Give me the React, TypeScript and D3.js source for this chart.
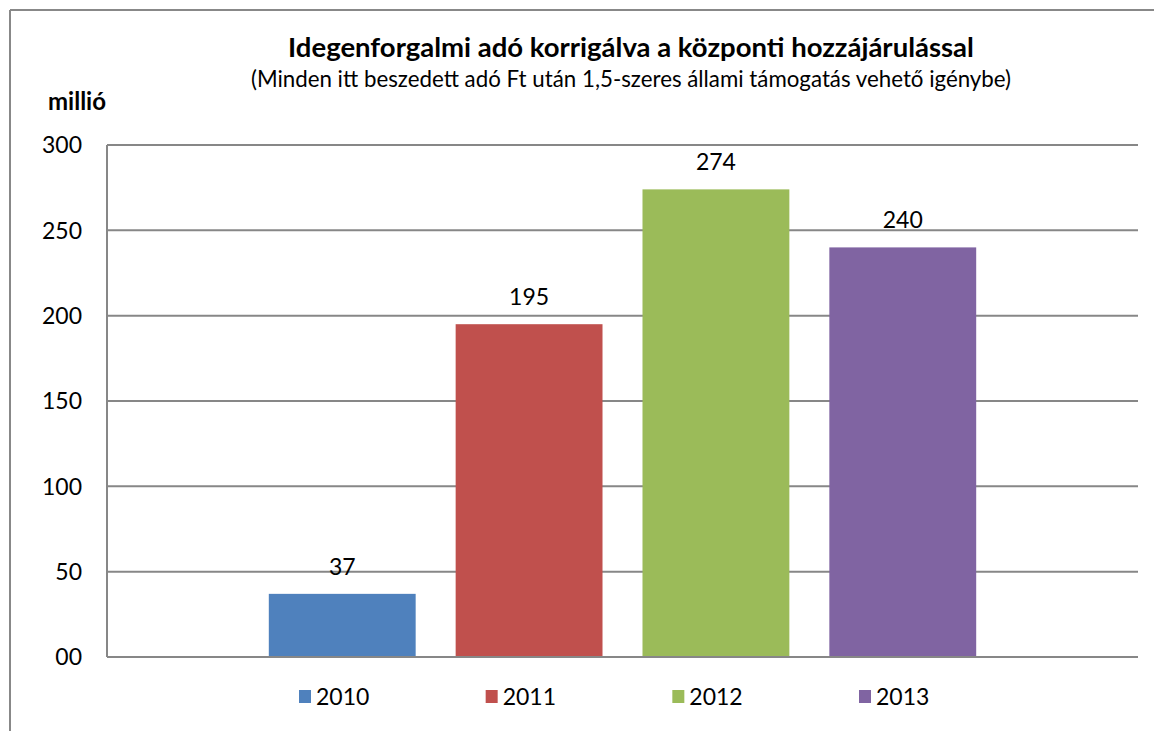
import React from "react";
import * as d3 from "d3";

const title = "Idegenforgalmi adó korrigálva a központi hozzájárulással";
const subtitle = "(Minden itt beszedett adó Ft után 1,5-szeres állami támogatás vehető igénybe)";
const unitLabel = "millió";
const years = ["2010", "2011", "2012", "2013"];
const values = [37, 195, 274, 240];
const colors = ["#4F81BD", "#C0504D", "#9BBB59", "#8064A2"];
const tickValues = [0, 50, 100, 150, 200, 250, 300];
const tickLabels = ["00", "50", "100", "150", "200", "250", "300"];

const W = 1154;
const H = 731;
const FONT = "Lato, 'Open Sans', sans-serif";

export default function App() {
  const left = 107, right = 1138, top = 145, bottom = 657;
  const y = d3.scaleLinear().domain([0, 300]).range([bottom, top]);
  const x = d3.scaleBand<string>().domain(years).range([left, right]).paddingInner(0.214).paddingOuter(0.866);
  const legendX = d3.scalePoint<string>().domain(years).range([299, 859]);
  const grid = "#878787";
  return (
    <svg width={W} height={H} style={{ position: "absolute", left: 0, top: 0, background: "#fff" }} fontFamily={FONT}>
      <rect x={0} y={0} width={W} height={H} fill="#fff" />
      <line x1={10} y1={10} x2={W} y2={10} stroke="#888" strokeWidth={2} />
      <line x1={10} y1={10} x2={10} y2={H} stroke="#888" strokeWidth={2} />
      <text x={631} y={57} textAnchor="middle" fontSize={27.5} fontWeight="bold" fill="#000">{title}</text>
      <text x={631} y={87} textAnchor="middle" fontSize={22.3} fill="#000">{subtitle}</text>
      <text x={77} y={110} textAnchor="middle" fontSize={24} fontWeight="bold" fill="#000">{unitLabel}</text>
      {tickValues.map((t, i) => (
        <g key={t}>
          <line x1={left} x2={right} y1={y(t)} y2={y(t)} stroke={grid} strokeWidth={2} />
          <text x={82} y={y(t)} dy="0.36em" textAnchor="end" fontSize={23} fill="#000">{tickLabels[i]}</text>
        </g>
      ))}
      <line x1={left} x2={left} y1={top} y2={bottom} stroke={grid} strokeWidth={2} />
      {years.map((yr, i) => (
        <g key={yr}>
          <rect x={x(yr)!} y={y(values[i])} width={x.bandwidth()} height={y(0) - y(values[i]) - 1} fill={colors[i]} />
          <text x={x(yr)! + x.bandwidth() / 2} y={y(values[i]) - 19} textAnchor="middle" fontSize={23} fill="#000">{values[i]}</text>
        </g>
      ))}
      <line x1={left} x2={right} y1={bottom} y2={bottom} stroke={grid} strokeWidth={2} />
      {years.map((yr, i) => (
        <g key={"lg" + yr}>
          <rect x={legendX(yr)!} y={690} width={12} height={13} fill={colors[i]} />
          <text x={legendX(yr)! + 17} y={705} fontSize={23} fill="#000">{yr}</text>
        </g>
      ))}
    </svg>
  );
}
